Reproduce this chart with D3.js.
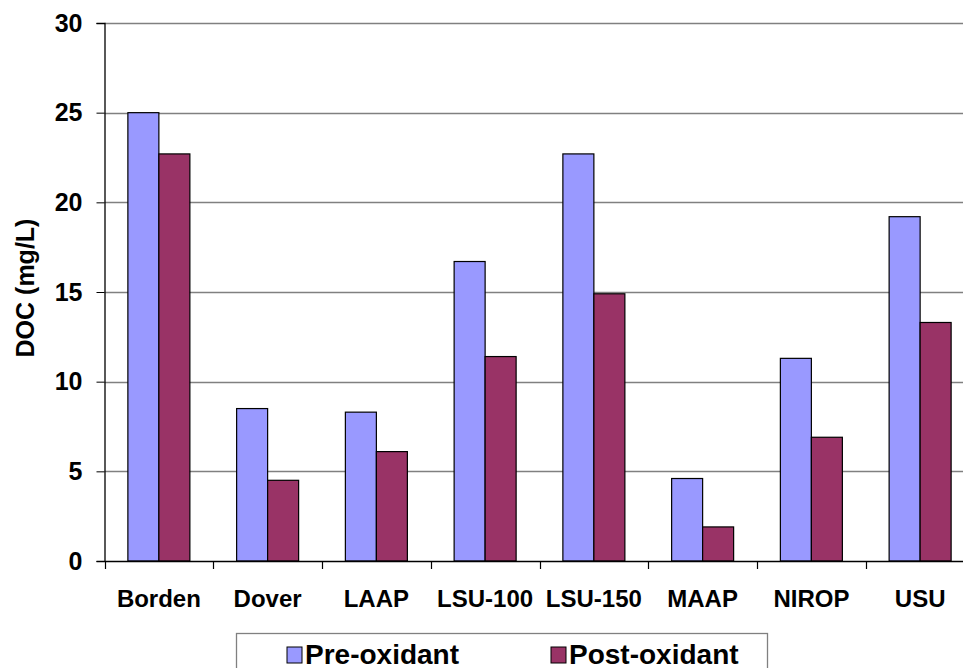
<!DOCTYPE html>
<html><head><meta charset="utf-8">
<script src="https://cdn.jsdelivr.net/npm/d3@7"></script>
<style>body{margin:0;background:#fff;overflow:hidden}svg{display:block}</style>
</head><body><svg id="c" width="963" height="668"></svg>
<script>
const categories = ["Borden","Dover","LAAP","LSU-100","LSU-150","MAAP","NIROP","USU"];
const preOxidant = [25.0, 8.5, 8.3, 16.7, 22.7, 4.6, 11.3, 19.2];
const postOxidant = [22.7, 4.5, 6.1, 11.4, 14.9, 1.9, 6.9, 13.3];
const seriesNames = ["Pre-oxidant","Post-oxidant"];
const seriesColors = ["#9999FF","#993366"];
const yTicks = [0,5,10,15,20,25,30];
const yTitle = "DOC (mg/L)";

(function(){
const svg = d3.select("#c");
const font = "'Liberation Sans', Arial, sans-serif";
const pLeft = 104.5, pRight = 974.5, pTop = 23, pBottom = 561;

const x = d3.scaleBand().domain(categories).range([pLeft, pRight]).paddingInner(0).paddingOuter(0);
const y = d3.scaleLinear().domain([0,30]).range([pBottom, pTop]);
const inner = d3.scaleBand().domain(seriesNames).range([0, x.bandwidth()]).paddingInner(0).paddingOuter(0.754);

// gridlines
svg.append("g").selectAll("line").data(yTicks.filter(d=>d>0)).join("line")
  .attr("x1", pLeft).attr("x2", 963).attr("y1", d=>Math.round(y(d))+0.5).attr("y2", d=>Math.round(y(d))+0.5)
  .attr("stroke", "#808080").attr("stroke-width", 1.3);

// bars
const series = [preOxidant, postOxidant];
series.forEach((vals, si) => {
  svg.append("g").selectAll("rect").data(categories).join("rect")
    .attr("x", c => x(c) + inner(seriesNames[si]))
    .attr("y", (c,i) => y(vals[i]))
    .attr("width", inner.bandwidth())
    .attr("height", (c,i) => y(0) - y(vals[i]))
    .attr("fill", seriesColors[si]).attr("stroke", "#000").attr("stroke-width", 1.2);
});

// y axis
const ya = svg.append("g").attr("transform", `translate(${pLeft},0)`)
  .call(d3.axisLeft(y).tickValues(yTicks).tickSize(8).tickPadding(14).tickFormat(d3.format("d")));
ya.select(".domain").attr("stroke","#000").attr("stroke-width",1.3);
ya.selectAll(".tick line").attr("stroke","#000");
ya.selectAll(".tick text").attr("font-family",font).attr("font-size",25).attr("font-weight","bold").attr("fill","#000");

// x axis
const xa = svg.append("g").attr("transform", `translate(0,${pBottom})`)
  .call(d3.axisBottom(x).tickSize(0).tickPadding(0));
xa.select(".domain").attr("stroke","#000").attr("stroke-width",1.3);
xa.selectAll(".tick text").attr("font-family",font).attr("font-size",24).attr("font-weight","bold").attr("fill","#000")
  .attr("dy", null).attr("y", 46);
// category separators
svg.append("g").selectAll("line").data(categories).join("line")
  .attr("x1", c=>Math.round(x(c))+0.5).attr("x2", c=>Math.round(x(c))+0.5)
  .attr("y1", pBottom).attr("y2", pBottom+8).attr("stroke","#000").attr("stroke-width",1.2);

// y title
svg.append("text").attr("transform", `translate(34,288) rotate(-90)`).attr("text-anchor","middle")
  .attr("font-family",font).attr("font-size",25).attr("font-weight","bold").text(yTitle);

// legend
const lg = svg.append("g");
lg.append("rect").attr("x",236.5).attr("y",633.5).attr("width",531).attr("height",60)
  .attr("fill","#fff").attr("stroke","#808080").attr("stroke-width",1.3);
const legX = [287, 551];
seriesNames.forEach((n,i)=>{
  lg.append("rect").attr("x",legX[i]).attr("y",647).attr("width",15).attr("height",16)
    .attr("fill",seriesColors[i]).attr("stroke","#000").attr("stroke-width",1);
  lg.append("text").attr("x",legX[i]+18).attr("y",664).attr("font-family",font).attr("font-size",28)
    .attr("font-weight","bold").text(n);
});
})();
</script></body></html>
